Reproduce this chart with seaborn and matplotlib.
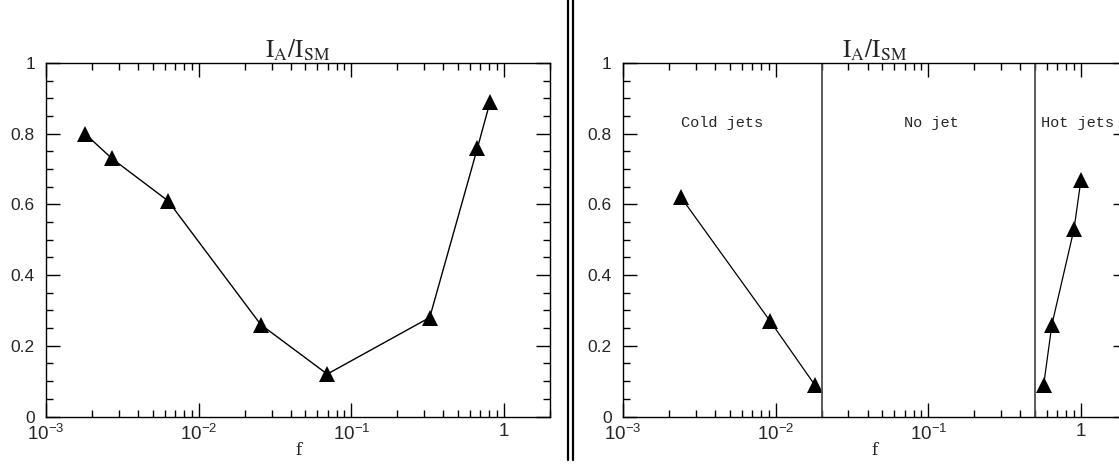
import numpy as np
import pandas as pd
import matplotlib
matplotlib.use('Agg')
import matplotlib.pyplot as plt
import matplotlib.ticker as mticker
from matplotlib.lines import Line2D
import seaborn as sns

# --- data ---
f_left = [0.0018, 0.0027, 0.0063, 0.0255, 0.0695, 0.326, 0.67, 0.81]
r_left = [0.80, 0.73, 0.61, 0.26, 0.12, 0.28, 0.76, 0.89]

f_cold = [0.0024, 0.0092, 0.018]
r_cold = [0.62, 0.27, 0.09]
f_hot = [0.57, 0.645, 0.90, 1.0]
r_hot = [0.09, 0.26, 0.53, 0.67]

boundaries = [0.02, 0.5]
regions = ['Cold jets', 'No jet', 'Hot jets']
region_x = [0.0024, 0.105, 0.55]
region_ha = ['left', 'center', 'left']

xticks = [1e-3, 1e-2, 1e-1, 1]
xtick_labels = [r'$\mathregular{10^{-3}}$', r'$\mathregular{10^{-2}}$', r'$\mathregular{10^{-1}}$', '1']
yticks = [0, 0.2, 0.4, 0.6, 0.8, 1]
ytick_labels = ['0', '0.2', '0.4', '0.6', '0.8', '1']

sns.set_style('ticks')
plt.rcParams['font.family'] = ['Liberation Sans', 'DejaVu Sans']
plt.rcParams['mathtext.fontset'] = 'stix'

fig = plt.figure(figsize=(11.19, 4.66), dpi=100)
ax1 = fig.add_axes([0.0411, 0.1062, 0.4504, 0.7586])
ax2 = fig.add_axes([0.5567, 0.1062, 0.4504, 0.7586])


def style_axis(ax):
    ax.set_xscale('log')
    ax.set_xlim(1e-3, 2)
    ax.set_ylim(0, 1)
    ax.set_xticks(xticks)
    ax.set_xticklabels(xtick_labels)
    ax.set_yticks(yticks)
    ax.set_yticklabels(ytick_labels)
    ax.yaxis.set_minor_locator(mticker.MultipleLocator(0.05))
    ax.xaxis.set_minor_locator(mticker.LogLocator(base=10, subs=np.arange(2, 10)))
    ax.xaxis.set_minor_formatter(mticker.NullFormatter())
    ax.tick_params(which='both', direction='in', top=True, right=True, color='black', width=1)
    ax.tick_params(which='major', length=10)
    ax.tick_params(which='minor', length=5)
    ax.tick_params(axis='y', which='major', labelsize=12.5, pad=8)
    ax.tick_params(axis='x', which='major', labelsize=13.5, pad=5)
    for s in ax.spines.values():
        s.set_color('black')
        s.set_linewidth(1.0)
    ax.set_xlabel('f', family='DejaVu Serif', fontsize=12, labelpad=-1)
    ax.set_ylabel('')
    ax.set_title(r'$\mathrm{I_A/I_{SM}}$', fontsize=18, pad=1)


# left panel
df_left = pd.DataFrame({'f': f_left, 'ratio': r_left})
sns.lineplot(data=df_left, x='f', y='ratio', ax=ax1, color='black', lw=1,
             marker='^', markersize=12, markeredgewidth=0, sort=False)
style_axis(ax1)

# right panel
df_cold = pd.DataFrame({'f': f_cold, 'ratio': r_cold})
df_hot = pd.DataFrame({'f': f_hot, 'ratio': r_hot})
for d in [df_cold, df_hot]:
    sns.lineplot(data=d, x='f', y='ratio', ax=ax2, color='black', lw=0.9,
                 marker='^', markersize=12, markeredgewidth=0, sort=False)
for b in boundaries:
    ax2.axvline(b, color='0.3', lw=1.3)
for name, xx, ha in zip(regions, region_x, region_ha):
    ax2.text(xx, 0.83, name, ha=ha, va='center', family='Liberation Mono', fontsize=11)
style_axis(ax2)

# double separator between the panels
for xf in [567.5 / 1119, 572.5 / 1119]:
    fig.add_artist(Line2D([xf, xf], [6 / 466, 1.0], color='black', lw=1.6))

fig.savefig('out.png', dpi=100)
